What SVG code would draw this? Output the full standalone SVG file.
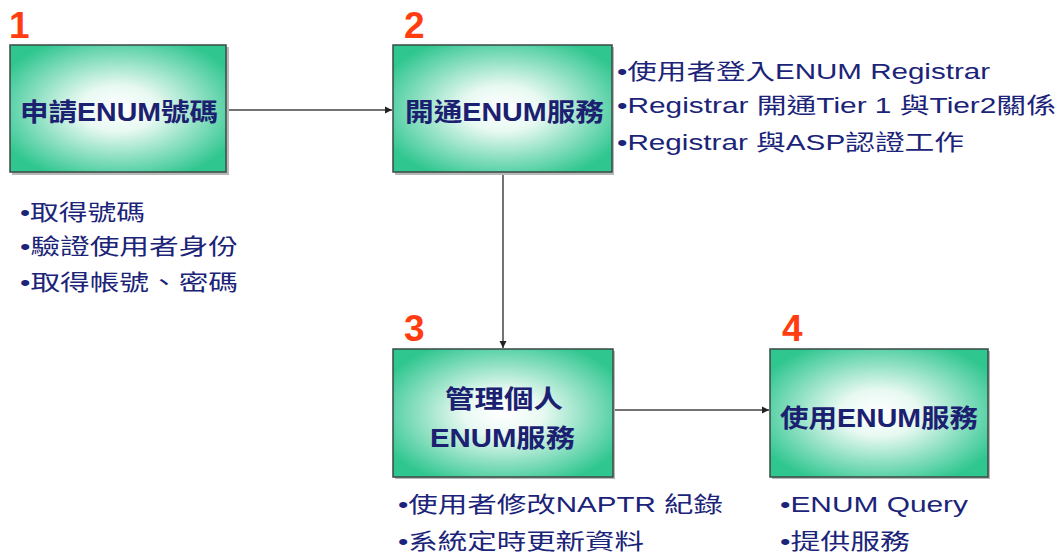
<svg xmlns="http://www.w3.org/2000/svg" width="1062" height="557" viewBox="0 0 1062 557">
<defs>
<radialGradient id="g" cx="50%" cy="50%" r="60%">
<stop offset="0" stop-color="#ffffff"/>
<stop offset="0.3" stop-color="#e8f9f2"/>
<stop offset="1" stop-color="#2fc690"/>
</radialGradient>
<marker id="ah" markerWidth="8" markerHeight="8" refX="7" refY="4" orient="auto" markerUnits="userSpaceOnUse">
<path d="M0,0.5 L7,4 L0,7.5 z" fill="#222"/>
</marker>
<style>
.box{fill:url(#g);stroke:#3a4a44;stroke-width:1.5}
.sh{fill:#b8b8b8}
.num{font-family:"Liberation Sans",Arial,sans-serif;font-weight:bold;font-size:37px;fill:#ff3d10}
.lbl{font-family:"Liberation Sans","Noto Sans CJK TC",sans-serif;font-weight:bold;font-size:25px;fill:#1b2070}
.bul{font-family:"Liberation Sans","Noto Sans CJK TC",sans-serif;font-size:22px;fill:#1b2478}
.con{stroke:#444;stroke-width:1.5;fill:none}
</style>
</defs>
<g id="connectors">
<line class="con" x1="227" y1="110" x2="392" y2="110" marker-end="url(#ah)"/>
<line class="con" x1="503" y1="173" x2="503" y2="348" marker-end="url(#ah)"/>
<line class="con" x1="614" y1="410" x2="769" y2="410" marker-end="url(#ah)"/>
</g>
<g id="node1">
<text class="num" x="9" y="38">1</text>
<rect class="sh" x="12" y="47" width="217" height="128"/>
<rect class="box" x="10" y="45" width="216" height="127"/>
<text class="lbl" x="20" y="121" textLength="198" lengthAdjust="spacingAndGlyphs">申請ENUM號碼</text>
<text class="bul" x="20" y="220" textLength="125" lengthAdjust="spacingAndGlyphs">•取得號碼</text>
<text class="bul" x="20" y="254" textLength="218" lengthAdjust="spacingAndGlyphs">•驗證使用者身份</text>
<text class="bul" x="20" y="290" textLength="218" lengthAdjust="spacingAndGlyphs">•取得帳號、密碼</text>
</g>
<g id="node2">
<text class="num" x="404" y="38">2</text>
<rect class="sh" x="395" y="47" width="219" height="128"/>
<rect class="box" x="393" y="45" width="219" height="127"/>
<text class="lbl" x="405" y="121" textLength="199" lengthAdjust="spacingAndGlyphs">開通ENUM服務</text>
<text class="bul" x="617" y="79" textLength="373" lengthAdjust="spacingAndGlyphs">•使用者登入ENUM Registrar</text>
<text class="bul" x="617" y="113" textLength="439" lengthAdjust="spacingAndGlyphs">•Registrar 開通Tier 1 與Tier2關係</text>
<text class="bul" x="617" y="150" textLength="347" lengthAdjust="spacingAndGlyphs">•Registrar 與ASP認證工作</text>
</g>
<g id="node3">
<text class="num" x="404" y="341">3</text>
<rect class="sh" x="395" y="351" width="220" height="128"/>
<rect class="box" x="393" y="349" width="220" height="128"/>
<text class="lbl" x="445" y="408" textLength="118" lengthAdjust="spacingAndGlyphs">管理個人</text>
<text class="lbl" x="430" y="447" textLength="145" lengthAdjust="spacingAndGlyphs">ENUM服務</text>
<text class="bul" x="398" y="512" textLength="325" lengthAdjust="spacingAndGlyphs">•使用者修改NAPTR 紀錄</text>
<text class="bul" x="398" y="549" textLength="246" lengthAdjust="spacingAndGlyphs">•系統定時更新資料</text>
</g>
<g id="node4">
<text class="num" x="782" y="341">4</text>
<rect class="sh" x="772" y="351" width="218" height="128"/>
<rect class="box" x="770" y="349" width="218" height="128"/>
<text class="lbl" x="780" y="427" textLength="198" lengthAdjust="spacingAndGlyphs">使用ENUM服務</text>
<text class="bul" x="780" y="512" textLength="188" lengthAdjust="spacingAndGlyphs">•ENUM Query</text>
<text class="bul" x="780" y="549" textLength="130" lengthAdjust="spacingAndGlyphs">•提供服務</text>
</g>
</svg>
